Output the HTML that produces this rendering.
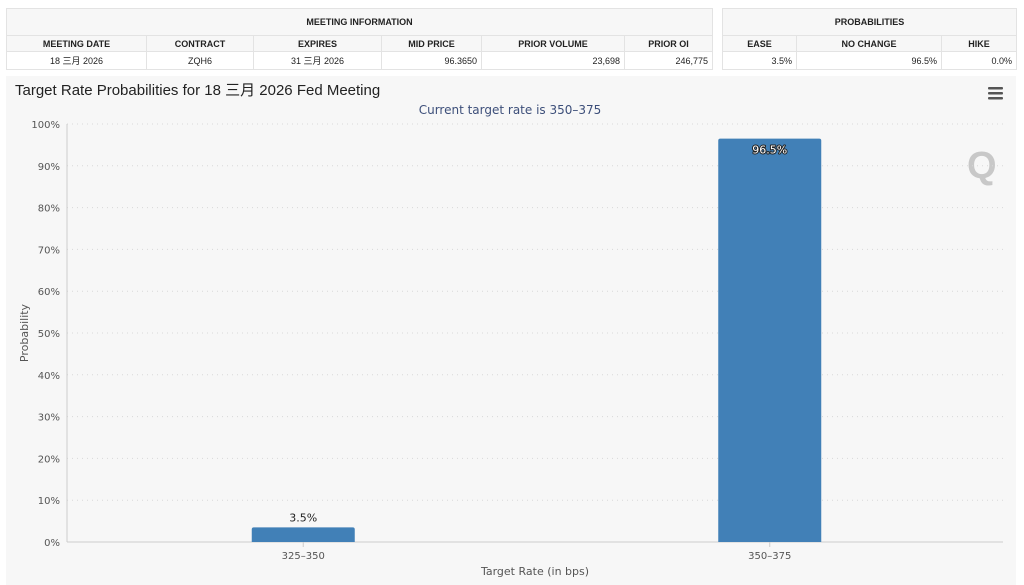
<!DOCTYPE html>
<html><head><meta charset="utf-8">
<style>
body{margin:0;width:1024px;height:585px;background:#fff;font-family:"Liberation Sans","Noto Sans CJK SC",sans-serif;position:relative;overflow:hidden}
table{position:absolute;border-collapse:collapse;font-size:9px;color:#222;table-layout:fixed}
td,th{border:1px solid #e3e3e3;padding:0 4px;}
th{background:#f7f7f7;font-weight:bold;text-align:center}
.h1{height:27px}.h2{height:16px}.d{height:18px;background:#fff}
.r{text-align:right}.c{text-align:center}
</style></head><body>
<table style="left:6px;top:8px;width:706px">
<colgroup><col style="width:140px"><col style="width:107px"><col style="width:128px"><col style="width:100px"><col style="width:143px"><col style="width:88px"></colgroup>
<tr class="h1"><th colspan="6">MEETING INFORMATION</th></tr>
<tr class="h2"><th>MEETING DATE</th><th>CONTRACT</th><th>EXPIRES</th><th>MID PRICE</th><th>PRIOR VOLUME</th><th>PRIOR OI</th></tr>
<tr class="d"><td class="c">18 三月 2026</td><td class="c">ZQH6</td><td class="c">31 三月 2026</td><td class="r">96.3650</td><td class="r">23,698</td><td class="r">246,775</td></tr>
</table>
<table style="left:722px;top:8px;width:294px">
<colgroup><col style="width:74px"><col style="width:145px"><col style="width:75px"></colgroup>
<tr class="h1"><th colspan="3">PROBABILITIES</th></tr>
<tr class="h2"><th>EASE</th><th>NO CHANGE</th><th>HIKE</th></tr>
<tr class="d"><td class="r">3.5%</td><td class="r">96.5%</td><td class="r">0.0%</td></tr>
</table>
<div style="position:absolute;left:6px;top:76px;width:1010px;height:509px;background:#f7f7f7"></div>
<svg id="chart" width="1024" height="585" style="position:absolute;left:0;top:0" font-family="DejaVu Sans, sans-serif">
<text x="15" y="95" font-family="Liberation Sans, Noto Sans CJK SC, sans-serif" font-size="15" fill="#222">Target Rate Probabilities for 18 三月 2026 Fed Meeting</text>
<text x="510" y="114" text-anchor="middle" font-size="12" fill="#3d4f7a">Current target rate is 350–375</text>
<g fill="#555"><rect x="988" y="87" width="15" height="2.5" rx="1"/><rect x="988" y="92" width="15" height="2.5" rx="1"/><rect x="988" y="97" width="15" height="2.5" rx="1"/></g>
<text x="967" y="178" font-size="38" font-weight="bold" fill="#c8c8c8" font-family="Liberation Sans, sans-serif">Q</text>
<g id="grid"></g><g id="bars"></g>
<text transform="translate(28,333) rotate(-90)" text-anchor="middle" font-size="11" fill="#555">Probability</text>
<text x="535" y="575" text-anchor="middle" font-size="11" fill="#555">Target Rate (in bps)</text>
</svg>
<script>
const categories=["325-350","350-375"];
const values=[3.5,96.5];
const yTicks=[0,10,20,30,40,50,60,70,80,90,100];
const NS="http://www.w3.org/2000/svg";
const L=70,R=1003,Y0=542,Y1=124;
const y=v=>Y0-(v/100)*(Y0-Y1);
const band=(R-L)/categories.length;
const xc=i=>L+band*(i+0.5);
function mk(t,a,p){const e=document.createElementNS(NS,t);for(const k in a)e.setAttribute(k,a[k]);p.appendChild(e);return e;}
const g=document.getElementById('grid'),b=document.getElementById('bars');
yTicks.forEach(t=>{
 const ln=mk('line',{x1:67,x2:1003,y1:y(t),y2:y(t),stroke:t===0?'#ccc':'#d8d8d8','stroke-dasharray':t===0?'':'1,4'},g);
 
 
 const tx=mk('text',{x:60,y:y(t)+4,'text-anchor':'end','font-size':10,fill:'#555'},g);
 tx.textContent=t+'%';
 
 
});
const ax=mk('line',{x1:67,x2:67,y1:Y1,y2:Y0,stroke:'#ccc'},g);


categories.forEach((c,i)=>{
 const bw=103,h=Y0-y(values[i]);
 const r=mk('path',{d:`M${xc(i)-bw/2},${Y0}V${y(values[i])+2}q0,-2 2,-2H${xc(i)+bw/2-2}q2,0 2,2V${Y0}Z`,fill:'#4180b7'},b);
 
 
 const inside=h>30;
 const lb=mk('text',{x:xc(i),y:inside?y(values[i])+15:y(values[i])-6,'text-anchor':'middle','font-size':11,fill:inside?'#fff':'#222',stroke:inside?'#222':'none','stroke-width':inside?2:0,'paint-order':'stroke','stroke-linejoin':'round'},b);
 lb.textContent=values[i]+'%';
 
 
 const tk=mk('line',{x1:xc(i),x2:xc(i),y1:Y0,y2:Y0+5,stroke:'#ccc'},b);
 
 
 const xl=mk('text',{x:xc(i),y:Y0+17,'text-anchor':'middle','font-size':10,fill:'#555'},b);
 xl.textContent=c.replace('-','–');
 
 
});
</script>
</body></html>
